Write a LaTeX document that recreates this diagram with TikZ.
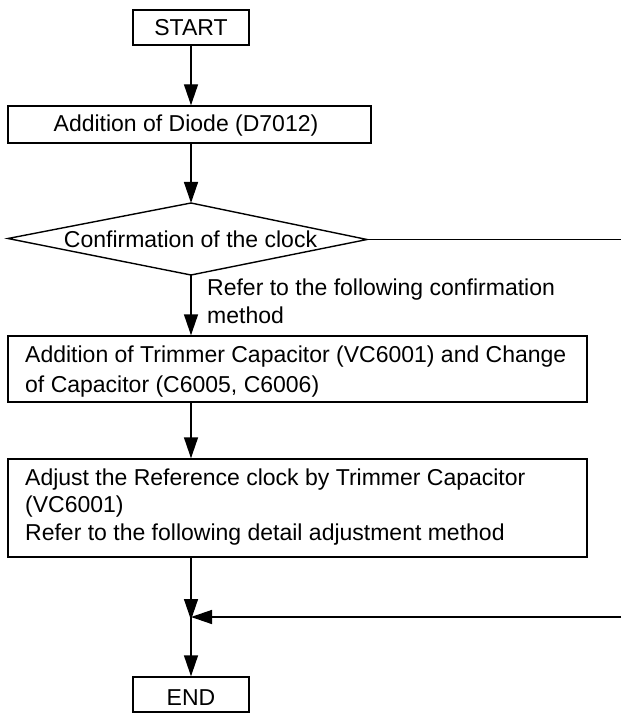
\documentclass[tikz,border=0pt]{standalone}
\usepackage{fontspec}
\setmainfont{Liberation Sans}
\usetikzlibrary{arrows.meta}
\begin{document}
\begin{tikzpicture}[x=1pt,y=-1pt,
  txt/.style={font=\fontsize{23}{27}\selectfont, inner sep=0pt},
  box/.style 2 args={draw, line width=1.4pt, inner sep=0pt, minimum width=#1, minimum height=#2},
  line/.style={line width=1.4pt, line join=miter},
  flow/.style={line width=1.4pt, -{Triangle[length=21pt,width=14pt]}}]
\useasboundingbox (0,0) rectangle (621,714);
% boxes
\node[box={116pt}{35pt}] (start) at (191,27.5) {};
\node[box={363pt}{37pt}] (diode) at (189.5,124.5) {};
\node[box={579pt}{66pt}] (trim) at (297.5,369) {};
\node[box={579pt}{98pt}] (adj) at (297.5,508) {};
\node[box={116pt}{35pt}] (end) at (191,694.5) {};
% texts
\node[txt, anchor=base] (starttxt) at (191,36) {START};
\node[txt, anchor=base] (diodetxt) at (186,132) {Addition of Diode (D7012)};
\node[txt, anchor=base] (conftxt) at (190.5,247) {Confirmation of the clock};
\node[txt, anchor=base west] (lab1) at (207,295) {Refer to the following confirmation};
\node[txt, anchor=base west] (lab2) at (207,323) {method};
\node[txt, anchor=base west] (trim1) at (25,362) {Addition of Trimmer Capacitor (VC6001) and Change};
\node[txt, anchor=base west] (trim2) at (25,392) {of Capacitor (C6005, C6006)};
\node[txt, anchor=base west] (adj1) at (25,485) {Adjust the Reference clock by Trimmer Capacitor};
\node[txt, anchor=base west] (adj2) at (25,512) {(VC6001)};
\node[txt, anchor=base west] (adj3) at (25,540) {Refer to the following detail adjustment method};
\node[txt, anchor=base] (endtxt) at (191,705) {END};
% diamond
\coordinate (dt) at (191,203);
\coordinate (dr) at (367,239.5);
\coordinate (db) at (191,275);
\coordinate (dl) at (8,238.5);
\draw[line] (dt) -- (dr) -- (db) -- (dl) -- cycle;
% connectors
\coordinate (rout) at (621,239.5);
\coordinate (rin) at (621,617);
\coordinate (j) at (191,617);
\draw[flow] (start.south) -- (start.south |- diode.north);
\draw[flow] (dt |- diode.south) -- (dt);
\draw[flow] (db) -- (db |- trim.north);
\draw[flow] (j |- trim.south) -- (j |- adj.north);
\draw[flow] (j |- adj.south) -- ([yshift=-3pt]j);
\draw[flow] (rin) -- (j);
\draw[flow] (j) -- (end.north);
\draw[line] (dr) -- (rout);
\end{tikzpicture}
\end{document}
